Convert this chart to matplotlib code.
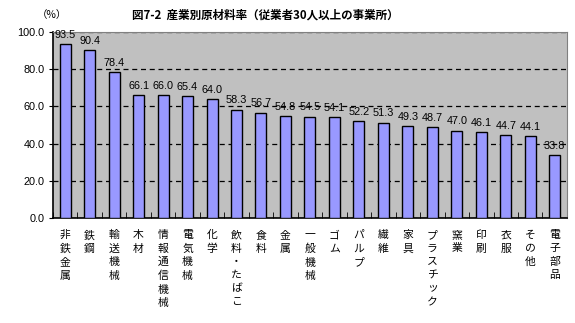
import matplotlib
matplotlib.use("Agg")
import matplotlib.pyplot as plt
import numpy as np

plt.rcParams['font.family'] = ['Noto Sans CJK JP', 'DejaVu Sans']

categories = ["非鉄金属", "鉄鋼", "輸送機械", "木材", "情報通信機械", "電気機械", "化学",
              "飲料・たばこ", "食料", "金属", "一般機械", "ゴム", "パルプ", "繊維", "家具",
              "プラスチック", "窯業", "印刷", "衣服", "その他", "電子部品"]
values = [93.5, 90.4, 78.4, 66.1, 66.0, 65.4, 64.0, 58.3, 56.7, 54.8, 54.5, 54.1,
          52.2, 51.3, 49.3, 48.7, 47.0, 46.1, 44.7, 44.1, 33.8]
yticks = [0, 20, 40, 60, 80, 100]

fig = plt.figure(figsize=(5.75, 3.23), dpi=100)
ax = fig.add_axes([0.092, 0.325, 0.894, 0.576])
ax.set_facecolor('#C0C0C0')

x = np.arange(len(categories))
ax.bar(x, values, width=0.45, color='#9999FF', edgecolor='black', linewidth=1.0, zorder=3)

for xi, v in zip(x, values):
    ax.text(xi, v + 2.3, f"{v:.1f}", ha='center', va='bottom', fontsize=7.8,
            family='Liberation Sans', zorder=4)

ax.set_xlim(-0.5, len(categories) - 0.5)
ax.set_ylim(0, 100)
ax.set_yticks(yticks)
ax.set_yticklabels([f"{t:.1f}" for t in yticks], fontsize=7.8, family='Liberation Sans')
ax.yaxis.grid(True, color='black', linestyle=(0, (4, 3)), linewidth=0.9, zorder=1)
ax.tick_params(axis='y', length=3, direction='out', pad=3)

# vertical category labels, one character per line
ax.set_xticks(x)
ax.set_xticklabels([])
for xi, name in zip(x, categories):
    ax.text(xi, -0.065, "\n".join(name), transform=ax.get_xaxis_transform(),
            ha='center', va='top', fontsize=7.8, linespacing=1.42)
ax.set_xticks(np.arange(len(categories) + 1) - 0.5, minor=True)
ax.tick_params(axis='x', which='major', length=0)
ax.tick_params(axis='x', which='minor', length=4, direction='in')

for s in ax.spines.values():
    s.set_color('#808080')
ax.spines['left'].set_color('black')
ax.spines['bottom'].set_color('black')
ax.spines['left'].set_linewidth(1.2)
ax.spines['bottom'].set_linewidth(1.2)

fig.text(0.461, 0.953, "図7-2  産業別原材料率（従業者30人以上の事業所）", ha='center', va='center',
         fontsize=8.3, fontweight='bold')
fig.text(0.09, 0.953, "（%）", ha='center', va='center', fontsize=7.5)

fig.savefig("out.png", dpi=100, facecolor='white')
